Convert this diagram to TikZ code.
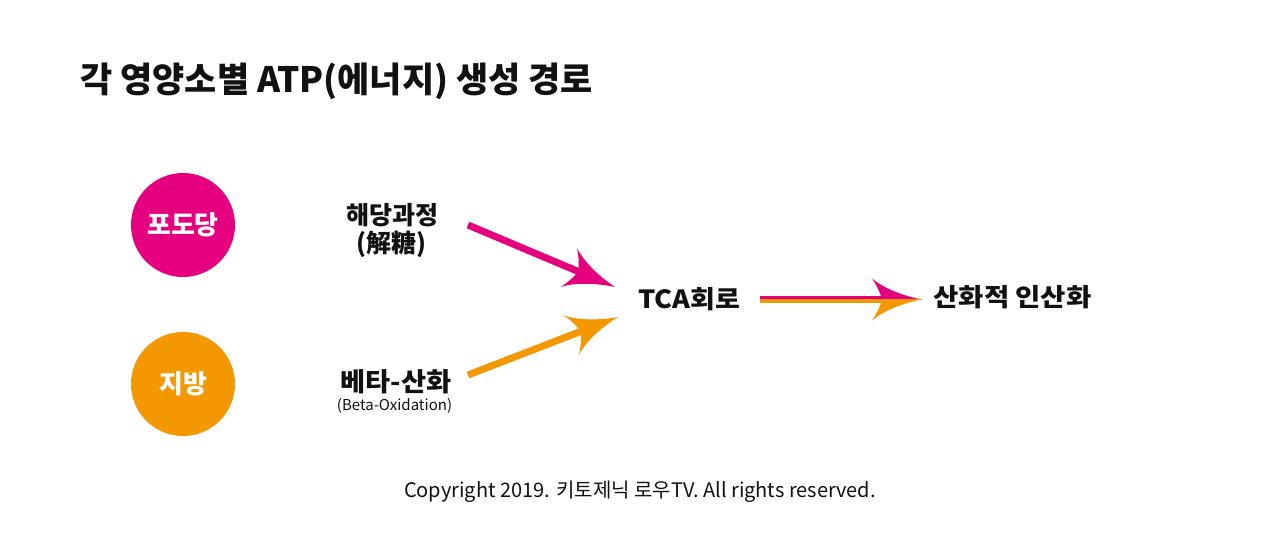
\documentclass[tikz,border=0pt]{standalone}
\usepackage{fontspec}
\setmainfont{Noto Sans CJK KR}
\usetikzlibrary{arrows.meta}
\definecolor{mag}{HTML}{E4007F}
\definecolor{org}{HTML}{F39800}
\definecolor{ink}{HTML}{111111}
\pgfdeclarearrow{
  name = Barb,
  parameters = {\the\pgfarrowlength,\the\pgfarrowwidth},
  setup code = {
    \pgfarrowssettipend{0pt}
    \pgfarrowssetlineend{-0.78\pgfarrowlength}
    \pgfarrowssetbackend{-\pgfarrowlength}
    \pgfarrowssavethe\pgfarrowlength
    \pgfarrowssavethe\pgfarrowwidth
  },
  drawing code = {
    \pgfpathmoveto{\pgfpointorigin}
    \pgfpathcurveto{\pgfpoint{-0.35\pgfarrowlength}{0.08\pgfarrowwidth}}{\pgfpoint{-0.75\pgfarrowlength}{0.25\pgfarrowwidth}}{\pgfpoint{-\pgfarrowlength}{0.5\pgfarrowwidth}}
    \pgfpathcurveto{\pgfpoint{-0.86\pgfarrowlength}{0.26\pgfarrowwidth}}{\pgfpoint{-0.82\pgfarrowlength}{0.08\pgfarrowwidth}}{\pgfpoint{-0.8\pgfarrowlength}{0pt}}
    \pgfpathcurveto{\pgfpoint{-0.82\pgfarrowlength}{-0.08\pgfarrowwidth}}{\pgfpoint{-0.86\pgfarrowlength}{-0.26\pgfarrowwidth}}{\pgfpoint{-\pgfarrowlength}{-0.5\pgfarrowwidth}}
    \pgfpathcurveto{\pgfpoint{-0.75\pgfarrowlength}{-0.25\pgfarrowwidth}}{\pgfpoint{-0.35\pgfarrowlength}{-0.08\pgfarrowwidth}}{\pgfpointorigin}
    \pgfpathclose
    \pgfusepathqfill
  },
  defaults = {length=50pt, width=42pt}
}
\tikzset{
  blob/.style={circle, minimum size=104pt, inner sep=0pt, text=white, font=\bfseries\fontsize{26}{30}\selectfont},
  lbl/.style={text=ink, inner sep=0pt, font=\bfseries\fontsize{25}{30}\selectfont},
  sub/.style={text=ink, inner sep=0pt, font=\fontsize{15}{18}\selectfont},
  conn/.style={line width=7pt, -{Barb[length=50pt,width=42pt]}},
}
\begin{document}
\begin{tikzpicture}[x=1pt,y=-1pt]
\useasboundingbox (0,0) rectangle (1280,544);
\fill[white] (0,0) rectangle (1280,544);
\node[anchor=base west, text=ink, inner sep=0pt, font=\bfseries\fontsize{35}{40}\selectfont] (title) at (80,92) {각 영양소별 ATP(에너지) 생성 경로};
\node[blob, fill=mag] (glu) at (183,225) {포도당};
\node[blob, fill=org] (fat) at (183,384) {지방};
\node[lbl] (gly) at (392.5,215) {해당과정};
\node[lbl] (glyh) at (391,244) {(解糖)};
\node[lbl, font=\bfseries\fontsize{26}{30}\selectfont] (beta) at (396,381.5) {\scalebox{1.05}[1]{베타-산화}};
\node[sub] (betae) at (394.5,406) {(Beta-Oxidation)};
\node[lbl] (tca) at (689,299) {\scalebox{1.08}[1]{TCA회로}};
\node[lbl] (oxp) at (1012.5,297.5) {\scalebox{1.1}[1]{산화적 인산화}};
\node[text=ink, inner sep=0pt, font=\fontsize{20}{24}\selectfont] (copy) at (640,492) {Copyright 2019. 키토제닉 로우TV. All rights reserved.};
\coordinate (a1s) at (468,225);
\coordinate (a1t) at (615,287);
\coordinate (a2s) at (468,375);
\coordinate (a2t) at (618,317);
\coordinate (a3s) at (760,299.5);
\coordinate (a3t) at (922,299.5);
\draw[conn, mag] (a1s) -- (a1t);
\draw[conn, org] (a2s) -- (a2t);
\begin{scope}
\clip (700,250) rectangle (940,299.5);
\draw[conn, mag] (a3s) -- (a3t);
\end{scope}
\begin{scope}
\clip (700,299.5) rectangle (940,350);
\draw[conn, org] (a3s) -- (a3t);
\end{scope}
\end{tikzpicture}
\end{document}
